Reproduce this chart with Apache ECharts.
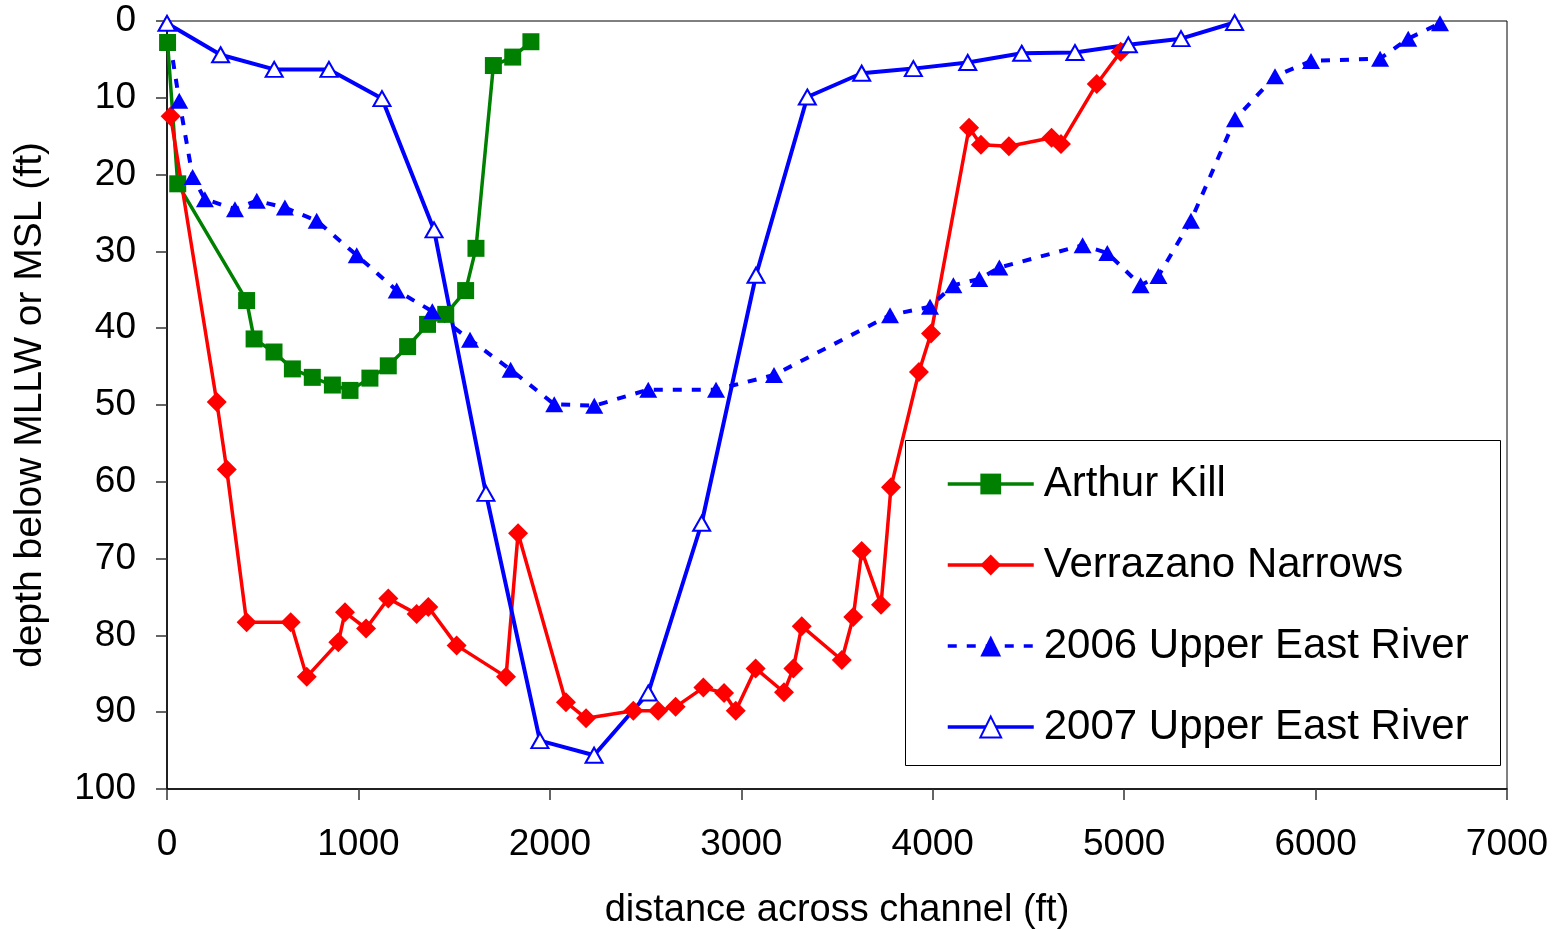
<!DOCTYPE html>
<html>
<head>
<meta charset="utf-8">
<script src="https://cdn.jsdelivr.net/npm/echarts@6/dist/echarts.min.js"></script>
<style>
html,body{margin:0;padding:0;background:#fff;}
#chart{width:1560px;height:929px;}
</style>
</head>
<body>
<div id="chart"></div>
<script>
// Arthur Kill
const akX = [3, 56, 416, 455, 559, 655, 759, 864, 956, 1060, 1156, 1257, 1361, 1456, 1560, 1614, 1705, 1806, 1901];
const akY = [2.8, 21.2, 36.4, 41.4, 43.1, 45.3, 46.4, 47.4, 48.1, 46.5, 44.9, 42.4, 39.5, 38.2, 35.1, 29.6, 5.8, 4.7, 2.7];
// Verrazano Narrows
const vnX = [19, 260, 312, 416, 646, 730, 895, 930, 1040, 1156, 1304, 1365, 1513, 1771, 1834, 2084, 2189, 2436, 2566, 2657, 2802, 2910, 2971, 3075, 3223, 3272, 3316, 3525, 3585, 3629, 3730, 3782, 3928, 3991, 4190, 4252, 4398, 4621, 4670, 4857, 4982];
const vnY = [12.4, 49.6, 58.4, 78.3, 78.3, 85.4, 80.9, 77.0, 79.1, 75.2, 77.2, 76.3, 81.3, 85.4, 66.7, 88.7, 90.8, 89.8, 89.8, 89.3, 86.8, 87.5, 89.8, 84.3, 87.4, 84.3, 78.8, 83.2, 77.6, 69.0, 76.0, 60.7, 45.7, 40.7, 13.9, 16.1, 16.3, 15.2, 16.0, 8.2, 4.0];
// 2006 Upper East River
const ue06X = [0, 64, 134, 198, 355, 469, 616, 782, 991, 1200, 1386, 1583, 1795, 2023, 2232, 2514, 2868, 3171, 3777, 3986, 4108, 4243, 4348, 4783, 4912, 5086, 5179, 5349, 5579, 5788, 5976, 6337, 6484, 6650];
const ue06Y = [0.2, 10.4, 20.3, 23.2, 24.5, 23.4, 24.3, 26.0, 30.5, 35.1, 37.8, 41.5, 45.4, 49.9, 50.1, 48.0, 48.0, 46.1, 38.3, 37.2, 34.4, 33.6, 32.1, 29.2, 30.2, 34.4, 33.2, 26.0, 12.8, 7.2, 5.2, 4.9, 2.3, 0.3];
// 2007 Upper East River
const ue07X = [0, 280, 560, 846, 1123, 1395, 1666, 1948, 2231, 2514, 2793, 3077, 3345, 3629, 3899, 4183, 4465, 4743, 5022, 5297, 5577];
const ue07Y = [0.3, 4.4, 6.3, 6.3, 10.1, 27.2, 61.5, 93.7, 95.6, 87.5, 65.4, 33.1, 9.9, 6.8, 6.2, 5.4, 4.2, 4.1, 3.1, 2.3, 0.2];

const seriesNames = ['Arthur Kill', 'Verrazano Narrows', '2006 Upper East River', '2007 Upper East River'];
const xTicks = [0, 1000, 2000, 3000, 4000, 5000, 6000, 7000];
const yTicks = [0, 10, 20, 30, 40, 50, 60, 70, 80, 90, 100];

function pairs(xs, ys) { return xs.map((x, i) => [x, ys[i]]); }

const FONT = '"Liberation Sans", Arial, sans-serif';
const chart = echarts.init(document.getElementById('chart'), null, {renderer: 'canvas'});

chart.setOption({
  animation: false,
  backgroundColor: '#fff',
  grid: {left: 167, right: 53, top: 21, bottom: 140, containLabel: false, outerBoundsMode: 'none',
         show: true, borderColor: '#000', borderWidth: 1, backgroundColor: 'transparent'},
  xAxis: {
    type: 'value', min: xTicks[0], max: xTicks[xTicks.length - 1], interval: 1000,
    name: 'distance across channel (ft)', nameLocation: 'middle', nameGap: 103,
    nameTextStyle: {fontFamily: FONT, fontSize: 38, color: '#000'},
    axisLine: {show: true, onZero: false, lineStyle: {color: '#000', width: 1.5}},
    axisTick: {show: true, inside: false, length: 11, lineStyle: {color: '#333', width: 1.5}},
    axisLabel: {fontFamily: FONT, fontSize: 37, color: '#000', margin: 37, formatter: v => String(v)},
    splitLine: {show: false}
  },
  yAxis: {
    type: 'value', inverse: true, min: yTicks[0], max: yTicks[yTicks.length - 1], interval: 10,
    name: 'depth below MLLW or MSL (ft)', nameLocation: 'middle', nameGap: 117, nameRotate: 90,
    nameTextStyle: {fontFamily: FONT, fontSize: 39, color: '#000'},
    axisLine: {show: true, onZero: false, lineStyle: {color: '#000', width: 1.5}},
    axisTick: {show: true, inside: false, length: 11, lineStyle: {color: '#333', width: 1.5}},
    axisLabel: {fontFamily: FONT, fontSize: 37, color: '#000', margin: 31, formatter: v => String(v)},
    splitLine: {show: false}
  },
  legend: {
    orient: 'vertical', left: 946, top: 463, padding: 0,
    itemWidth: 86, itemHeight: 26, itemGap: 39,
    data: seriesNames,
    lineStyle: {width: 3.5},
    textStyle: {fontFamily: FONT, fontSize: 42, color: '#000', padding: [0, 0, 0, 5]}
  },
  graphic: [{
    type: 'rect', left: 905, top: 440, z: 0,
    shape: {width: 595, height: 325},
    style: {fill: '#fff', stroke: '#000', lineWidth: 1}
  }],
  series: [
    {
      name: seriesNames[0], type: 'line', data: pairs(akX, akY),
      symbol: 'rect', symbolSize: 17, color: '#008000',
      lineStyle: {color: '#008000', width: 3.5},
      itemStyle: {color: '#008000'}
    },
    {
      name: seriesNames[1], type: 'line', data: pairs(vnX, vnY),
      symbol: 'diamond', symbolSize: 20, color: '#FF0000',
      lineStyle: {color: '#FF0000', width: 3.5},
      itemStyle: {color: '#FF0000'}
    },
    {
      name: seriesNames[2], type: 'line', data: pairs(ue06X, ue06Y),
      symbol: 'triangle', symbolSize: [18, 16], color: '#0000FF',
      lineStyle: {color: '#0000FF', width: 4, type: [9, 10]},
      itemStyle: {color: '#0000FF'}
    },
    {
      name: seriesNames[3], type: 'line', data: pairs(ue07X, ue07Y),
      symbol: 'triangle', symbolSize: [17, 15], color: '#0000FF',
      lineStyle: {color: '#0000FF', width: 4},
      itemStyle: {color: '#FFFFFF', borderColor: '#0000FF', borderWidth: 2}
    }
  ]
});
</script>
</body>
</html>
